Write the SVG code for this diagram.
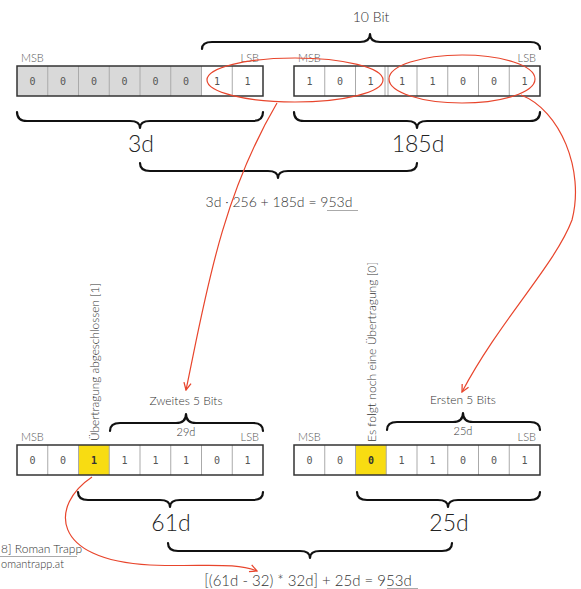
<svg xmlns="http://www.w3.org/2000/svg" width="581" height="589" viewBox="0 0 581 589">
<style>
  .t { font-family: Lato, "Open Sans", "DejaVu Sans", sans-serif; font-weight: 300; fill: #333; }
  .d { font-family: "DejaVu Sans Mono", "Liberation Mono", monospace; font-size: 10px; fill: #555; text-anchor: middle; }
  .db { font-family: "DejaVu Sans Mono", "Liberation Mono", monospace; font-size: 10px; fill: #333; font-weight: bold; text-anchor: middle; }
  .lbl { font-family: Lato, "Open Sans", "DejaVu Sans", sans-serif; font-weight: 300; font-size: 11px; fill: #555; }
  .big { font-family: Lato, "Open Sans", "DejaVu Sans", sans-serif; font-weight: 300; font-size: 23px; fill: #222; text-anchor: middle; }
  .frame { fill: none; stroke: #333; stroke-width: 1.5; }
  .div { stroke: #aaa; stroke-width: 1; }
  .brace { fill: none; stroke: #111; stroke-width: 2.2; stroke-linejoin: round; stroke-linecap: round; }
  .red { fill: none; stroke: #e8452c; stroke-width: 1.2; }
  .ul { stroke: #aaa; stroke-width: 1; }
</style>
<defs>
  <marker id="arr" viewBox="0 0 10 10" refX="9" refY="5" markerWidth="9" markerHeight="9" orient="auto" markerUnits="userSpaceOnUse">
    <path d="M1,1 L9,5 L1,9" fill="none" stroke="#e8452c" stroke-width="1.4"/>
  </marker>
</defs>

<!-- Top left register (3d) -->
<g id="reg-top-left">
  <rect x="17" y="66" width="184.5" height="30" fill="#d9d9d9"/>
  <rect x="201.5" y="66" width="61.5" height="30" fill="#fff"/>
  <line class="div" x1="47.75" y1="66" x2="47.75" y2="96"/>
  <line class="div" x1="78.5" y1="66" x2="78.5" y2="96"/>
  <line class="div" x1="109.25" y1="66" x2="109.25" y2="96"/>
  <line class="div" x1="140" y1="66" x2="140" y2="96"/>
  <line class="div" x1="170.75" y1="66" x2="170.75" y2="96"/>
  <line class="div" x1="201.5" y1="66" x2="201.5" y2="96"/>
  <line class="div" x1="232.25" y1="66" x2="232.25" y2="96"/>
  <rect class="frame" x="17" y="66" width="246" height="30"/>
  <text class="d" x="32.4" y="85">0</text>
  <text class="d" x="63.1" y="85">0</text>
  <text class="d" x="93.9" y="85">0</text>
  <text class="d" x="124.6" y="85">0</text>
  <text class="d" x="155.4" y="85">0</text>
  <text class="d" x="186.1" y="85">0</text>
  <text class="d" x="216.9" y="85">1</text>
  <text class="d" x="247.6" y="85">1</text>
  <text class="lbl" x="21" y="62">MSB</text>
  <text class="lbl" x="259" y="62" text-anchor="end">LSB</text>
</g>

<!-- Top right register (185d) -->
<g id="reg-top-right">
  <rect x="294" y="66" width="246" height="30" fill="#fff"/>
  <line class="div" x1="324.75" y1="66" x2="324.75" y2="96"/>
  <line class="div" x1="355.5" y1="66" x2="355.5" y2="96"/>
  <line class="div" x1="385" y1="66" x2="385" y2="96"/>
  <line class="div" x1="388" y1="66" x2="388" y2="96"/>
  <line class="div" x1="417" y1="66" x2="417" y2="96"/>
  <line class="div" x1="447.75" y1="66" x2="447.75" y2="96"/>
  <line class="div" x1="478.5" y1="66" x2="478.5" y2="96"/>
  <line class="div" x1="509.25" y1="66" x2="509.25" y2="96"/>
  <rect class="frame" x="294" y="66" width="246" height="30"/>
  <text class="d" x="309.4" y="85">1</text>
  <text class="d" x="340.1" y="85">0</text>
  <text class="d" x="370.5" y="85">1</text>
  <text class="d" x="402" y="85">1</text>
  <text class="d" x="432.4" y="85">1</text>
  <text class="d" x="463.1" y="85">0</text>
  <text class="d" x="493.9" y="85">0</text>
  <text class="d" x="524.6" y="85">1</text>
  <text class="lbl" x="298" y="62">MSB</text>
  <text class="lbl" x="536" y="62" text-anchor="end">LSB</text>
</g>

<!-- 10 Bit brace -->
<g id="brace-10bit">
  <path class="brace" d="M202,49 Q202,42 212,42 L360,42 Q370,42 370,34 Q370,42 380,42 L530,42 Q540,42 540,49"/>
  <text class="t" x="371" y="22" font-size="14" text-anchor="middle">10 Bit</text>
</g>

<!-- braces below top registers -->
<g id="brace-3d">
  <path class="brace" d="M17,112 Q17,121 27,121 L130,121 Q140,121 140,128 Q140,121 150,121 L253,121 Q263,121 263,112"/>
  <text class="big" x="141" y="152">3d</text>
</g>
<g id="brace-185d">
  <path class="brace" d="M294,112 Q294,121 304,121 L407,121 Q417,121 417,128 Q417,121 427,121 L530,121 Q540,121 540,112"/>
  <text class="big" x="418" y="152">185d</text>
</g>
<g id="brace-sum-top">
  <path class="brace" d="M140,163 Q140,171 150,171 L268,171 Q278,171 278,178 Q278,171 288,171 L407,171 Q417,171 417,163"/>
  <text class="t" x="279" y="207" font-size="14" text-anchor="middle">3d · 256 + 185d = 953d</text>
  <line class="ul" x1="327" y1="210.5" x2="358" y2="210.5"/>
</g>

<!-- Lower left register (61d) -->
<g id="reg-bottom-left">
  <rect x="17" y="445" width="246" height="30" fill="#fff"/>
  <rect x="78.5" y="445" width="30.75" height="30" fill="#f8dc12"/>
  <line class="div" x1="47.75" y1="445" x2="47.75" y2="475"/>
  <line class="div" x1="78.5" y1="445" x2="78.5" y2="475"/>
  <line class="div" x1="109.25" y1="445" x2="109.25" y2="475"/>
  <line class="div" x1="140" y1="445" x2="140" y2="475"/>
  <line class="div" x1="170.75" y1="445" x2="170.75" y2="475"/>
  <line class="div" x1="201.5" y1="445" x2="201.5" y2="475"/>
  <line class="div" x1="232.25" y1="445" x2="232.25" y2="475"/>
  <rect class="frame" x="17" y="445" width="246" height="30"/>
  <text class="d" x="32.4" y="464">0</text>
  <text class="d" x="63.1" y="464">0</text>
  <text class="db" x="93.9" y="464">1</text>
  <text class="d" x="124.6" y="464">1</text>
  <text class="d" x="155.4" y="464">1</text>
  <text class="d" x="186.1" y="464">1</text>
  <text class="d" x="216.9" y="464">0</text>
  <text class="d" x="247.6" y="464">1</text>
  <text class="lbl" x="21" y="441">MSB</text>
  <text class="lbl" x="259" y="441" text-anchor="end">LSB</text>
  <text class="t" transform="translate(99,441) rotate(-90)" font-size="12" textLength="158" lengthAdjust="spacingAndGlyphs">Übertragung abgeschlossen [1]</text>
</g>

<!-- Lower right register (25d) -->
<g id="reg-bottom-right">
  <rect x="294" y="445" width="246" height="30" fill="#fff"/>
  <rect x="355.5" y="445" width="30.75" height="30" fill="#f8dc12"/>
  <line class="div" x1="324.75" y1="445" x2="324.75" y2="475"/>
  <line class="div" x1="355.5" y1="445" x2="355.5" y2="475"/>
  <line class="div" x1="386.25" y1="445" x2="386.25" y2="475"/>
  <line class="div" x1="417" y1="445" x2="417" y2="475"/>
  <line class="div" x1="447.75" y1="445" x2="447.75" y2="475"/>
  <line class="div" x1="478.5" y1="445" x2="478.5" y2="475"/>
  <line class="div" x1="509.25" y1="445" x2="509.25" y2="475"/>
  <rect class="frame" x="294" y="445" width="246" height="30"/>
  <text class="d" x="309.4" y="464">0</text>
  <text class="d" x="340.1" y="464">0</text>
  <text class="db" x="370.9" y="464">0</text>
  <text class="d" x="401.6" y="464">1</text>
  <text class="d" x="432.4" y="464">1</text>
  <text class="d" x="463.1" y="464">0</text>
  <text class="d" x="493.9" y="464">0</text>
  <text class="d" x="524.6" y="464">1</text>
  <text class="lbl" x="298" y="441">MSB</text>
  <text class="lbl" x="536" y="441" text-anchor="end">LSB</text>
  <text class="t" transform="translate(376,442) rotate(-90)" font-size="12" textLength="180" lengthAdjust="spacingAndGlyphs">Es folgt noch eine Übertragung [0]</text>
</g>

<!-- 5-bit braces -->
<g id="brace-zweites">
  <path class="brace" d="M110,431 Q110,423 120,423 L176,423 Q186,423 186,414 Q186,423 196,423 L253,423 Q263,423 263,431"/>
  <text class="t" x="186" y="405" font-size="12" text-anchor="middle">Zweites 5 Bits</text>
  <text class="t" x="186" y="436" font-size="11" text-anchor="middle" fill="#555">29d</text>
</g>
<g id="brace-ersten">
  <path class="brace" d="M387,430 Q387,422 397,422 L453,422 Q463,422 463,413 Q463,422 473,422 L530,422 Q540,422 540,430"/>
  <text class="t" x="463" y="404" font-size="12" text-anchor="middle">Ersten 5 Bits</text>
  <text class="t" x="463" y="435" font-size="11" text-anchor="middle" fill="#555">25d</text>
</g>

<!-- braces below lower registers -->
<g id="brace-61d">
  <path class="brace" d="M78,492 Q78,500 88,500 L160,500 Q170,500 170,507 Q170,500 180,500 L253,500 Q263,500 263,492"/>
  <text class="big" x="171" y="531">61d</text>
</g>
<g id="brace-25d">
  <path class="brace" d="M357,492 Q357,500 367,500 L438,500 Q448,500 448,507 Q448,500 458,500 L530,500 Q540,500 540,492"/>
  <text class="big" x="449" y="531">25d</text>
</g>
<g id="brace-sum-bottom">
  <path class="brace" d="M168,543 Q168,551 178,551 L300,551 Q310,551 310,558 Q310,551 320,551 L442,551 Q452,551 452,543"/>
  <text class="t" x="308" y="586" font-size="15" text-anchor="middle">[(61d - 32) * 32d] + 25d = 953d</text>
  <line class="ul" x1="387" y1="588.5" x2="418" y2="588.5"/>
</g>

<!-- copyright -->
<g id="copyright">
  <text class="t" x="1" y="553" font-size="12" fill="#444">8] Roman Trapp</text>
  <line class="ul" x1="0" y1="556.5" x2="77" y2="556.5"/>
  <text class="t" x="1" y="568" font-size="11" fill="#444">omantrapp.at</text>
</g>

<!-- connectors -->
<g id="connectors">
  <ellipse class="red" cx="295" cy="80" rx="88" ry="22"/>
  <ellipse class="red" cx="462" cy="79" rx="73" ry="24"/>
  <path class="red" d="M277,103 C220,200 205,300 186,390" marker-end="url(#arr)"/>
  <path class="red" d="M521,95 C560,110 585,170 572,220 C555,265 500,320 462,392" marker-end="url(#arr)"/>
  <path class="red" d="M92,477 C50,505 50,560 150,565 C205,567 235,562 257,571" marker-end="url(#arr)"/>
</g>
</svg>
